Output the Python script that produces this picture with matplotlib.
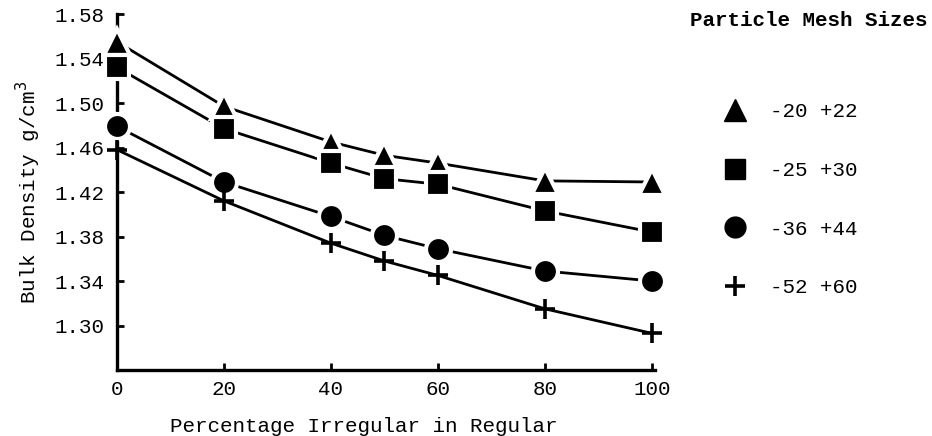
import matplotlib.pyplot as plt
from matplotlib.lines import Line2D

# percentage irregular particles in the regular ones
pct = [0, 20, 40, 50, 60, 80, 100]

# bulk density g/cm3 per mesh size
mesh_20_22 = [1.555, 1.497, 1.465, 1.453, 1.446, 1.430, 1.429]
mesh_25_30 = [1.532, 1.477, 1.446, 1.432, 1.427, 1.403, 1.384]
mesh_36_44 = [1.479, 1.429, 1.398, 1.381, 1.369, 1.349, 1.340]
mesh_52_60 = [1.458, 1.412, 1.374, 1.358, 1.345, 1.315, 1.293]

labels = ["-20 +22", "-25 +30", "-36 +44", "-52 +60"]
xticks = [0, 20, 40, 60, 80, 100]
yticks = [1.30, 1.34, 1.38, 1.42, 1.46, 1.50, 1.54, 1.58]

mono = "Liberation Mono"

fig = plt.figure(figsize=(9.32, 4.36), dpi=100)
ax = fig.add_axes([117 / 932, 1 - 370 / 436, (655 - 117) / 932, (370 - 14) / 436])

series = [mesh_20_22, mesh_25_30, mesh_36_44, mesh_52_60]
markers = ["^", "s", "o", "+"]
msizes = [19, 17, 18, 15]

for ys, m, ms in zip(series, markers, msizes):
    ax.plot(pct, ys, color="black", lw=2.0, zorder=2)
    if m == "+":
        ax.plot(pct, ys, ls="none", marker=m, ms=ms, mew=2.6, color="black",
                zorder=3, clip_on=False)
    else:
        ax.plot(pct, ys, ls="none", marker=m, ms=ms, mfc="black", mec="white",
                mew=3.0, zorder=3, clip_on=False)

ax.set_xlim(0, 100.6)
ax.set_ylim(1.26, 1.58)
ax.set_xticks(xticks)
ax.set_xticklabels([str(v) for v in xticks])
ax.set_yticks(yticks)
ax.set_yticklabels(["%.2f" % v for v in yticks])

for s in ["top", "right"]:
    ax.spines[s].set_visible(False)
for s in ["left", "bottom"]:
    ax.spines[s].set_linewidth(2.4)

ax.tick_params(axis="both", direction="in", length=5, width=2, labelsize=15)
ax.tick_params(axis="y", pad=9)
ax.tick_params(axis="x", pad=7)
for t in ax.get_xticklabels() + ax.get_yticklabels():
    t.set_fontfamily(mono)

ax.set_xlabel("Percentage Irregular in Regular", fontsize=15, family=mono)
ax.xaxis.set_label_coords(0.459, -0.132)
ax.set_ylabel("Bulk Density g/cm$^3$", fontsize=15, family=mono, labelpad=8)

# legend on the right
fig.text(690 / 932, 1 - 20 / 436, "Particle Mesh Sizes", fontsize=15, family=mono,
         fontweight="bold", va="center", ha="left")
handles = []
for m, ms in zip(markers, msizes):
    if m == "+":
        handles.append(Line2D([], [], ls="none", marker=m, ms=ms, mew=2.6, color="black"))
    else:
        handles.append(Line2D([], [], ls="none", marker=m, ms=ms - 3, color="black"))
leg = ax.legend(handles, labels, loc="upper left", bbox_to_anchor=(712 / 932, 1 - 92 / 436),
                bbox_transform=fig.transFigure, frameon=False, handlelength=1.2,
                handletextpad=1.1, labelspacing=1.9, borderpad=0,
                prop={"family": mono, "size": 15})

fig.savefig("out.png", dpi=100)
